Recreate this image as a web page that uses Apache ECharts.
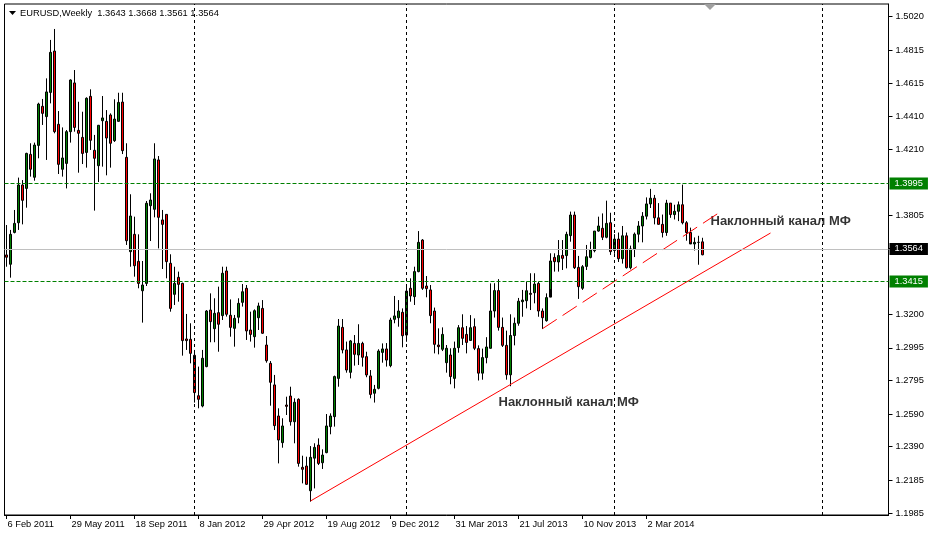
<!DOCTYPE html>
<html><head><meta charset="utf-8">
<script src="https://cdn.jsdelivr.net/npm/echarts@6/dist/echarts.min.js"></script>
<style>html,body{margin:0;padding:0;background:#fff}#c{width:931px;height:535px}</style>
</head><body><div id="c"></div>
<script>
// weekly bars, first bar = week of 6 Feb 2011
const slotCount = 221;
const opens = [
1.3563,1.3506,1.3701,1.3760,1.3991,1.3970,1.4178,1.4038,1.4233,1.4472,
1.4409,1.4557,1.4810,1.4362,1.4087,1.4123,1.4317,1.4615,1.4325,1.4282,
1.4190,1.4533,1.4203,1.4109,1.4384,1.4380,1.4419,1.4262,1.4380,1.4498,
1.4160,1.3583,1.3689,1.3524,1.3344,1.3389,1.3864,1.3842,1.4144,1.3777,
1.3811,1.3512,1.3322,1.3426,1.3389,1.3049,1.3047,1.2949,1.2702,1.2639,
1.2880,1.3226,1.3112,1.3210,1.3192,1.3465,1.3194,1.3114,1.3182,1.3273,
1.3359,1.3104,1.3063,1.3179,1.3236,1.3012,1.2900,1.2768,1.2578,1.2415,
1.2645,1.2700,1.2543,1.2680,1.2264,1.2272,1.2121,1.2320,1.2400,1.2292,
1.2354,1.2513,1.2574,1.2808,1.3120,1.2982,1.2845,1.3022,1.2951,1.3022,
1.2941,1.2823,1.2717,1.2747,1.2967,1.2988,1.2886,1.3169,1.3179,1.3212,
1.3073,1.3359,1.3308,1.3461,1.3654,1.3373,1.3349,1.3220,1.3012,1.2986,
1.2904,1.2951,1.2808,1.2996,1.3118,1.3077,1.3040,1.3124,1.2990,1.2840,
1.2935,1.2992,1.3220,1.3345,1.3120,1.3010,1.2830,1.3070,1.3145,1.3277,
1.3283,1.3328,1.3332,1.3389,1.3220,1.3161,1.3305,1.3548,1.3520,1.3560,
1.3559,1.3681,1.3807,1.3487,1.3359,1.3493,1.3548,1.3589,1.3709,1.3726,
1.3671,1.3760,1.3590,1.3660,1.3540,1.3680,1.3485,1.3600,1.3690,1.3740,
1.3800,1.3875,1.3910,1.3790,1.3750,1.3700,1.3880,1.3810,1.3830,1.3870,
1.3760,1.3700,1.3630,1.3640,1.3643];
const highs = [
1.3746,1.3716,1.3838,1.4036,1.4021,1.4188,1.4246,1.4250,1.4494,1.4517,
1.4643,1.4878,1.4945,1.4443,1.4343,1.4327,1.4637,1.4694,1.4500,1.4439,
1.4527,1.4576,1.4297,1.4358,1.4535,1.4449,1.4429,1.4515,1.4555,1.4555,
1.4246,1.3934,1.3797,1.3689,1.3526,1.3893,1.3940,1.4246,1.4168,1.3838,
1.3811,1.3567,1.3491,1.3461,1.3393,1.3202,1.3145,1.2982,1.2880,1.2982,
1.3226,1.3328,1.3298,1.3369,1.3491,1.3491,1.3291,1.3196,1.3298,1.3385,
1.3379,1.3216,1.3230,1.3271,1.3287,1.3067,1.2914,1.2829,1.2625,1.2564,
1.2696,1.2757,1.2686,1.2686,1.2335,1.2329,1.2394,1.2411,1.2441,1.2374,
1.2590,1.2594,1.2825,1.3171,1.3171,1.3033,1.3043,1.3073,1.3139,1.3032,
1.2971,1.2859,1.2768,1.2986,1.3022,1.3024,1.3179,1.3312,1.3287,1.3236,
1.3369,1.3420,1.3491,1.3709,1.3660,1.3434,1.3379,1.3241,1.3114,1.3120,
1.3012,1.2992,1.3033,1.3134,1.3200,1.3128,1.3195,1.3175,1.3010,1.2990,
1.3060,1.3389,1.3390,1.3415,1.3180,1.3100,1.3200,1.3180,1.3300,1.3349,
1.3400,1.3451,1.3451,1.3400,1.3236,1.3328,1.3573,1.3573,1.3654,1.3654,
1.3705,1.3828,1.3828,1.3557,1.3501,1.3624,1.3644,1.3709,1.3797,1.3817,
1.3895,1.3821,1.3690,1.3700,1.3740,1.3700,1.3620,1.3700,1.3770,1.3825,
1.3915,1.3967,1.3930,1.3880,1.3810,1.3900,1.3880,1.3870,1.3890,1.3993,
1.3770,1.3730,1.3670,1.3680,1.3668];
const lows = [
1.3491,1.3424,1.3695,1.3716,1.3750,1.3852,1.4042,1.4017,1.4154,1.4358,
1.4144,1.4490,1.4307,1.4058,1.4042,1.3970,1.4250,1.4317,1.4066,1.4119,
1.4097,1.4205,1.3834,1.4009,1.4103,1.4050,1.4097,1.4254,1.4378,1.4180,
1.3624,1.3491,1.3430,1.3359,1.3149,1.3373,1.3648,1.3793,1.3603,1.3477,
1.3420,1.3216,1.3257,1.3277,1.2947,1.2982,1.2900,1.2660,1.2625,1.2631,
1.2876,1.3029,1.3029,1.2971,1.3165,1.3186,1.3063,1.3002,1.3145,1.3247,
1.3043,1.3033,1.2996,1.3104,1.3080,1.2904,1.2641,1.2492,1.2288,1.2384,
1.2584,1.2519,1.2411,1.2268,1.2166,1.2156,1.2054,1.2135,1.2278,1.2254,
1.2350,1.2466,1.2513,1.2757,1.2961,1.2843,1.2808,1.2886,1.2890,1.2880,
1.2815,1.2686,1.2660,1.2741,1.2904,1.2880,1.2876,1.3145,1.3124,1.2998,
1.3032,1.3277,1.3257,1.3457,1.3349,1.3304,1.3145,1.2961,1.2955,1.2975,
1.2843,1.2772,1.2747,1.2965,1.3012,1.2961,1.3039,1.2981,1.2795,1.2800,
1.2900,1.2990,1.3180,1.3100,1.3000,1.2800,1.2760,1.3010,1.3130,1.3185,
1.3236,1.3226,1.3267,1.3185,1.3110,1.3155,1.3354,1.3461,1.3461,1.3471,
1.3481,1.3644,1.3477,1.3294,1.3349,1.3471,1.3542,1.3579,1.3705,1.3654,
1.3665,1.3563,1.3570,1.3520,1.3510,1.3480,1.3475,1.3550,1.3640,1.3640,
1.3780,1.3850,1.3750,1.3750,1.3670,1.3680,1.3790,1.3780,1.3770,1.3750,
1.3650,1.3640,1.3590,1.3503,1.3561];
const closes = [
1.3549,1.3689,1.3756,1.3991,1.3897,1.4184,1.4087,1.4235,1.4486,1.4429,
1.4560,1.4802,1.4317,1.4117,1.4156,1.4317,1.4633,1.4343,1.4307,1.4184,
1.4521,1.4264,1.4154,1.4356,1.4401,1.4278,1.4246,1.4394,1.4496,1.4201,
1.3650,1.3801,1.3497,1.3389,1.3379,1.3879,1.3899,1.4150,1.3793,1.3750,
1.3522,1.3236,1.3389,1.3383,1.3039,1.3039,1.2961,1.2721,1.2680,1.2931,
1.3220,1.3155,1.3206,1.3139,1.3451,1.3200,1.3120,1.3175,1.3267,1.3338,
1.3098,1.3077,1.3222,1.3251,1.3084,1.2916,1.2784,1.2519,1.2431,1.2517,
1.2637,1.2543,1.2662,1.2288,1.2252,1.2160,1.2325,1.2386,1.2288,1.2339,
1.2517,1.2578,1.2819,1.3128,1.2982,1.2859,1.3037,1.2955,1.3022,1.2937,
1.2829,1.2710,1.2741,1.2975,1.2988,1.2920,1.3165,1.3190,1.3220,1.3069,
1.3342,1.3312,1.3461,1.3640,1.3359,1.3357,1.3192,1.3016,1.3002,1.3077,
1.2992,1.2819,1.2992,1.3118,1.3053,1.3028,1.3118,1.2992,1.2840,1.2935,
1.3000,1.3220,1.3345,1.3120,1.3010,1.2830,1.3070,1.3145,1.3280,1.3287,
1.3344,1.3322,1.3385,1.3220,1.3179,1.3302,1.3526,1.3522,1.3559,1.3542,
1.3689,1.3807,1.3485,1.3369,1.3491,1.3552,1.3593,1.3709,1.3740,1.3671,
1.3756,1.3583,1.3660,1.3540,1.3680,1.3485,1.3600,1.3690,1.3740,1.3800,
1.3875,1.3910,1.3790,1.3750,1.3700,1.3880,1.3810,1.3830,1.3870,1.3760,
1.3700,1.3630,1.3640,1.3640,1.3564];
const priceTicks = [1.5020,1.4815,1.4615,1.4410,1.4210,1.3805,1.3605,1.3200,1.2995,1.2795,1.2590,1.2390,1.2185,1.1985];
const levelLines = [1.3995, 1.3415];
const lastPrice = 1.3564;
const yearStartIdx = [47, 100, 152, 204];
const trendLower = [[76, 1.2058], [191, 1.3697]];
const trendUpper = [[134, 1.3112], [178, 1.3819]];
const captions = [[123, 1.2664], [176, 1.3765]];
const captionText = 'Наклонный канал МФ';
const titleText = 'EURUSD,Weekly  1.3643 1.3668 1.3561 1.3564';

const MON = ['Jan','Feb','Mar','Apr','May','Jun','Jul','Aug','Sep','Oct','Nov','Dec'];
const categories = [];
for (let i = 0; i < slotCount; i++) {
  const d = new Date(Date.UTC(2011, 1, 6) + i * 7 * 86400000);
  categories.push(d.getUTCDate() + ' ' + MON[d.getUTCMonth()] + ' ' + d.getUTCFullYear());
}
const candles = opens.map((o, i) => [o, closes[i], lows[i], highs[i]]);
const nBars = candles.length;
const FONT = '"Liberation Sans", Arial, sans-serif';
const boxLabel = (txt, bg) => ({show: true, position: 'end', distance: 1, formatter: txt, color: '#fff', backgroundColor: bg,
  padding: [2, 5, 1, 5], fontSize: 9.3, fontFamily: FONT});
const GREEN_DASH = {color: '#008000', type: [4, 2], width: 1};

const chart = echarts.init(document.getElementById('c'), null, {renderer: 'canvas'});
chart.setOption({
  animation: false,
  backgroundColor: '#fff',
  grid: {left: 4.5, right: 42.5, top: 4, bottom: 20, show: true, borderColor: '#000', borderWidth: 1, backgroundColor: '#fff'},
  xAxis: {
    type: 'category', data: categories, boundaryGap: true,
    axisLine: {show: true, lineStyle: {color: '#000'}},
    axisTick: {show: true, length: 4, alignWithLabel: true, lineStyle: {color: '#000'},
      interval: (i) => i % 16 === 0 && i < nBars},
    axisLabel: {show: true, interval: (i) => i % 16 === 0 && i < nBars, align: 'left', margin: 5,
      fontSize: 9.3, fontFamily: FONT, color: '#000', padding: [0, 0, 0, 1]},
    splitLine: {show: false}
  },
  yAxis: {
    type: 'value', position: 'right', min: 1.19724, max: 1.50978, scale: true,
    axisLine: {show: true, lineStyle: {color: '#000'}},
    axisTick: {show: true, length: 4, customValues: priceTicks, lineStyle: {color: '#000'}},
    axisLabel: {show: true, customValues: priceTicks, formatter: (v) => v.toFixed(4), margin: 7,
      fontSize: 9.3, fontFamily: FONT, color: '#000'},
    splitLine: {show: false}
  },
  graphic: [
    {type: 'polygon', shape: {points: [[9, 11], [16, 11], [12.5, 15]]}, style: {fill: '#000'}},
    {type: 'text', x: 20, y: 13, style: {text: titleText, font: '9.3px ' + FONT, fill: '#000', textVerticalAlign: 'middle'}},
    {type: 'polygon', shape: {points: [[704, 4], [716, 4], [710, 10]]}, style: {fill: '#a0a0a0'}}
  ],
  series: [
    {
      type: 'line', data: [], silent: true,
      markLine: {silent: true, symbol: 'none', animation: false, label: {show: false},
        lineStyle: {color: '#000', type: [3, 3], width: 1},
        data: yearStartIdx.map(i => ({xAxis: categories[i], lineStyle: {color: '#000', type: [3, 3], width: 1}}))}
    },
    {
      type: 'line', data: [], silent: true,
      markLine: {silent: true, symbol: 'none', animation: false,
        lineStyle: GREEN_DASH,
        data: levelLines.map(v => ({yAxis: v, lineStyle: GREEN_DASH, label: boxLabel(v.toFixed(4), '#008000')}))}
    },
    {
      type: 'line', data: [], silent: true,
      markLine: {silent: true, symbol: 'none', animation: false,
        lineStyle: {color: '#c0c0c0', type: 'solid', width: 1},
        data: [{yAxis: lastPrice, lineStyle: {color: '#c0c0c0', type: 'solid', width: 1}, label: boxLabel(lastPrice.toFixed(4), '#000')}]}
    },
    {
      type: 'candlestick', data: candles, barWidth: 2,
      itemStyle: {color: '#008000', color0: '#ff0000', borderColor: '#000', borderColor0: '#000', borderWidth: 1}
    },
    {type: 'line', data: trendLower, symbol: 'none', lineStyle: {color: '#ff0000', width: 1}, silent: true},
    {type: 'line', data: trendUpper, symbol: 'none', lineStyle: {color: '#ff0000', width: 1, type: [17, 7]}, silent: true},
    {type: 'scatter', data: captions, symbolSize: 0, silent: true,
      label: {show: true, position: 'right', distance: 0, formatter: captionText, fontSize: 13, fontWeight: 'bold', fontFamily: FONT, color: '#000'}}
  ]
});
</script></body></html>
